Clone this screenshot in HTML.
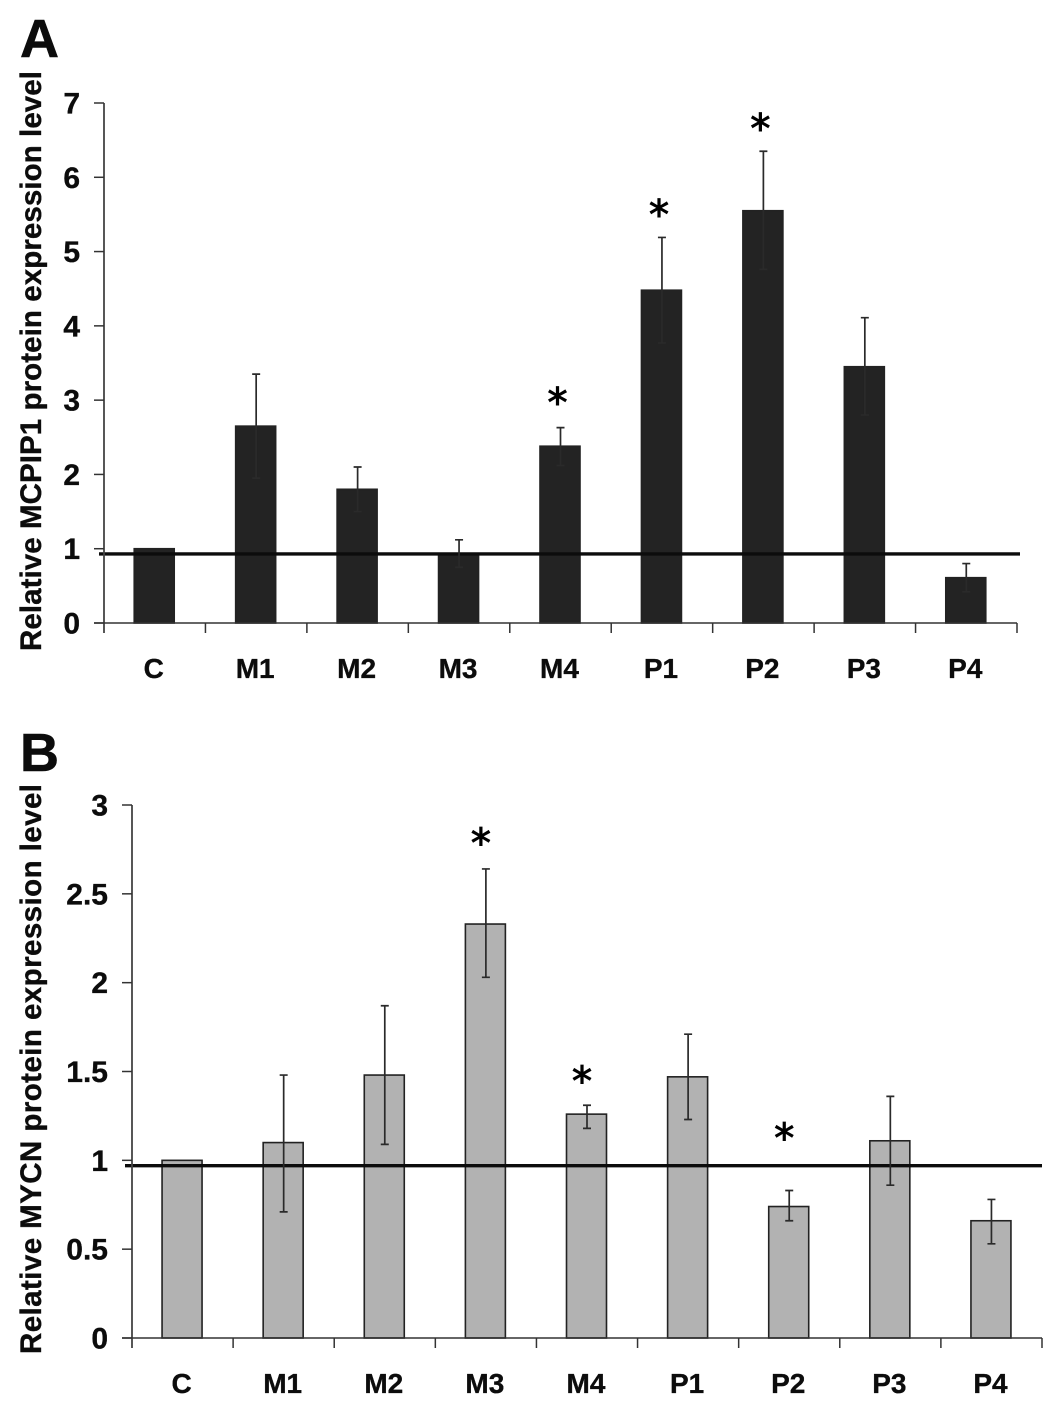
<!DOCTYPE html>
<html>
<head>
<meta charset="utf-8">
<title>MCPIP1 and MYCN protein expression</title>
<style>
html,body{margin:0;padding:0;background:#fff;}
svg{display:block;}
text{font-family:"Liberation Sans",sans-serif;font-weight:bold;fill:#0c0c0c;stroke:#0c0c0c;stroke-width:0.35px;}
</style>
</head>
<body>
<svg id="figure" width="1063" height="1415" viewBox="0 0 1063 1415" xmlns="http://www.w3.org/2000/svg"></svg>
<script>
const categories = ['C','M1','M2','M3','M4','P1','P2','P3','P4'];

const panelAValues = [1,2.65,1.8,0.93,2.38,4.48,5.55,3.45,0.61];
const panelAErrHigh = [null,3.35,2.1,1.12,2.63,5.19,6.35,4.11,0.8];
const panelAErrLow = [null,1.95,1.5,0.75,2.12,3.77,4.76,2.8,0.42];
const panelAStars = [null,null,null,null,3.05,5.58,6.74,null,null];
const panelATicks = [0,1,2,3,4,5,6,7];
const panelATickLabels = ['0','1','2','3','4','5','6','7'];
const panelAReference = [0.93];

const panelBValues = [1,1.1,1.48,2.33,1.26,1.47,0.74,1.11,0.66];
const panelBErrHigh = [null,1.48,1.87,2.64,1.31,1.71,0.83,1.36,0.78];
const panelBErrLow = [null,0.71,1.09,2.03,1.18,1.23,0.66,0.86,0.53];
const panelBStars = [null,null,null,2.82,1.48,null,1.16,null,null];
const panelBTicks = [0,0.5,1,1.5,2,2.5,3];
const panelBTickLabels = ['0','0.5','1','1.5','2','2.5','3'];
const panelBReference = [0.97];

const NS = 'http://www.w3.org/2000/svg';
const svg = document.getElementById('figure');

function node(tag, attrs, text, parent) {
  const el = document.createElementNS(NS, tag);
  for (const k in attrs) el.setAttribute(k, attrs[k]);
  if (text !== undefined && text !== null) el.textContent = text;
  (parent || svg).appendChild(el);
  return el;
}

function drawPanel(p) {
  const g = node('g', {});
  
  
  const step = (p.right - p.left) / categories.length;
  const xBand = i => p.left + step * i;
  const xMid = i => xBand(i + 0.5);
  const y = v => p.y0 - (v / p.max) * (p.y0 - p.yTop);

  const letter = node('text', {x: p.letterX, y: p.letterY, 'font-size': 54, style: 'stroke-width:0.6px'}, p.letter, g);
  
  

  const title = node('text', {
    transform: 'translate(' + p.titleX + ',' + p.titleY + ') rotate(-90)',
    'font-size': 29.5, textLength: p.titleLen, lengthAdjust: 'spacing'
  }, p.title, g);
  
  

  p.values.forEach((v, i) => {
    const top = y(v);
    const bar = node('rect', {
      x: xMid(i) - 20.5, y: top, width: 40, height: p.y0 - top,
      fill: p.fill, stroke: '#222', 'stroke-width': 1.6
    }, null, g);
    
    
  });

  const refLine = node('line', {
    x1: p.refX1, x2: p.refX2, y1: y(p.reference[0]), y2: y(p.reference[0]),
    stroke: '#0c0c0c', 'stroke-width': 3.4
  }, null, g);
  
  

  p.values.forEach((v, i) => {
    if (p.errHigh[i] === null) return;
    const cx = xMid(i);
    const hi = y(p.errHigh[i]);
    const lo = y(p.errLow[i]);
    const err = node('path', {
      d: 'M' + cx + ' ' + hi + 'V' + lo + 'M' + (cx - 4) + ' ' + hi + 'H' + (cx + 4) + 'M' + (cx - 4) + ' ' + lo + 'H' + (cx + 4),
      fill: 'none', stroke: '#2a2a2a', 'stroke-width': 1.7
    }, null, g);
    
    
  });

  p.stars.forEach((s, i) => {
    if (s === null) return;
    const star = node('text', {
      x: xMid(i) + p.starDx, y: y(s) + 20, 'font-size': 40, 'text-anchor': 'middle',
      style: 'font-family:\'DejaVu Sans\',sans-serif;font-weight:normal;fill:#000;stroke:#000;stroke-width:1px'
    }, '*', g);
    
    
  });

  const yAxis = node('line', {
    x1: p.left, x2: p.left, y1: p.yTop, y2: p.y0 + 10, stroke: '#444', 'stroke-width': 1.8
  }, null, g);
  
  

  const xAxis = node('line', {
    x1: p.left - 10, x2: p.right, y1: p.y0, y2: p.y0, stroke: '#333', 'stroke-width': 1.6
  }, null, g);
  
  

  p.ticks.forEach((t, i) => {
    const ty = y(t);
    const tick = node('line', {
      x1: p.left - 10, x2: p.left, y1: ty, y2: ty, stroke: '#333', 'stroke-width': 1.5
    }, null, g);
    
    
    const label = node('text', {
      x: p.left - 24, y: ty + 10.5, 'font-size': 30, 'text-anchor': 'end'
    }, p.tickLabels[i], g);
    
    
  });

  for (let i = 1; i <= categories.length; i++) {
    const tick = node('line', {
      x1: xBand(i), x2: xBand(i), y1: p.y0, y2: p.y0 + 10, stroke: '#333', 'stroke-width': 1.5
    }, null, g);
    
    
  }

  categories.forEach((c, i) => {
    const label = node('text', {
      x: xMid(i) - 1, y: p.y0 + 55, 'font-size': 28, 'text-anchor': 'middle'
    }, c, g);
    
    
  });
}

drawPanel({
  id: 'a', letter: 'A', letterX: 20, letterY: 57,
  title: 'Relative MCPIP1 protein expression level',
  titleX: 41, titleY: 651, titleLen: 580, starDx: -3,
  left: 104, right: 1017, y0: 623, yTop: 103, max: 7,
  refX1: 99, refX2: 1020, fill: '#232323',
  values: panelAValues, errHigh: panelAErrHigh, errLow: panelAErrLow, stars: panelAStars,
  ticks: panelATicks, tickLabels: panelATickLabels, reference: panelAReference
});

drawPanel({
  id: 'b', letter: 'B', letterX: 20, letterY: 771,
  title: 'Relative MYCN protein expression level',
  titleX: 41, titleY: 1354, titleLen: 570, starDx: -5,
  left: 132, right: 1042, y0: 1338, yTop: 805, max: 3,
  refX1: 125, refX2: 1042, fill: '#b2b2b2',
  values: panelBValues, errHigh: panelBErrHigh, errLow: panelBErrLow, stars: panelBStars,
  ticks: panelBTicks, tickLabels: panelBTickLabels, reference: panelBReference
});
</script>
</body>
</html>
